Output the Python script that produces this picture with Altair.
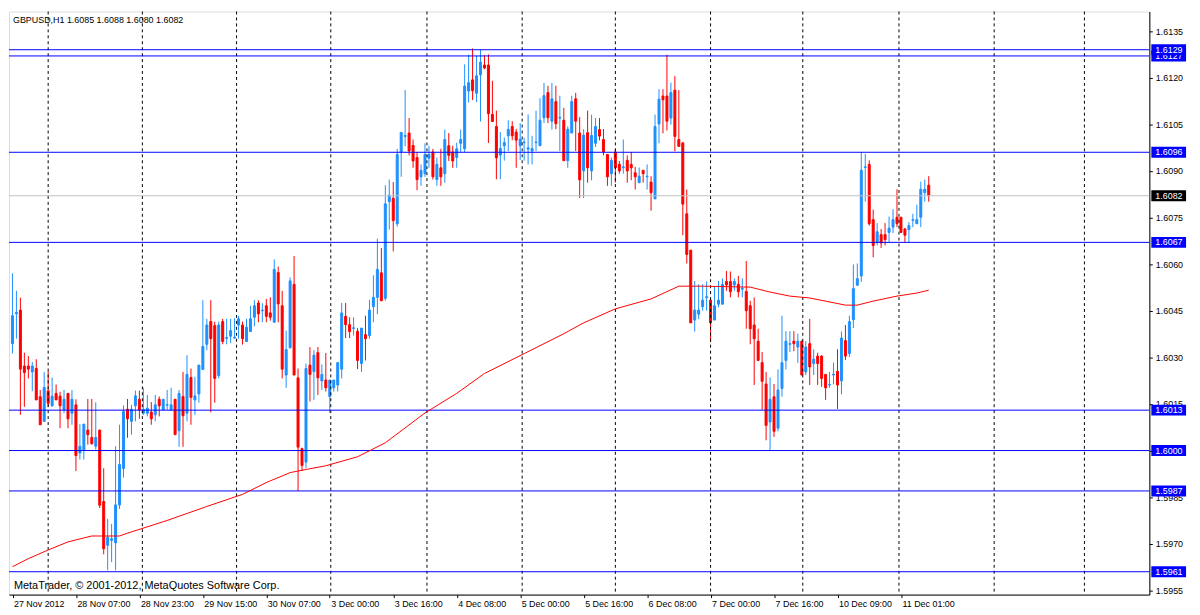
import altair as alt
import pandas as pd

# ---------------- data (GBPUSD H1, 27 Nov 15:00 .. 11 Dec 08:00) ----------------
opens = [
    1.60344, 1.60440, 1.60452, 1.60272, 1.60272, 1.60253, 1.60264, 1.60173, 1.60094, 1.60192,
    1.60144, 1.60184, 1.60175, 1.60131, 1.60184, 1.60120, 1.60147, 1.59992, 1.60001, 1.60066,
    1.60042, 1.60014, 1.60066, 1.59836, 1.59695, 1.59711, 1.59703, 1.59825, 1.59942, 1.60133,
    1.60094, 1.60144, 1.60165, 1.60120, 1.60120, 1.60124, 1.60115, 1.60165, 1.60131, 1.60146,
    1.60131, 1.60165, 1.60064, 1.60174, 1.60120, 1.60235, 1.60163, 1.60182, 1.60261, 1.60342,
    1.60415, 1.60402, 1.60241, 1.60415, 1.60361, 1.60368, 1.60362, 1.60404, 1.60404, 1.60351,
    1.60383, 1.60429, 1.60475, 1.60450, 1.60466, 1.60443, 1.60413, 1.60573, 1.60466, 1.60243,
    1.60331, 1.60535, 1.60234, 1.60006, 1.59963, 1.60275, 1.60254, 1.60315, 1.60224, 1.60227,
    1.60174, 1.60202, 1.60211, 1.60262, 1.60432, 1.60405, 1.60393, 1.60384, 1.60280, 1.60373,
    1.60370, 1.60463, 1.60493, 1.60572, 1.60490, 1.60801, 1.60812, 1.60730, 1.60961, 1.61011,
    1.61022, 1.60982, 1.60943, 1.60881, 1.60891, 1.60941, 1.60961, 1.60872, 1.60910, 1.60891,
    1.60981, 1.60961, 1.60943, 1.60989, 1.60971, 1.61157, 1.61193, 1.61150, 1.61209, 1.61241,
    1.61241, 1.61082, 1.61043, 1.60951, 1.60981, 1.61013, 1.61043, 1.61025, 1.60981, 1.60991,
    1.60970, 1.60964, 1.60991, 1.60981, 1.61071, 1.61152, 1.61060, 1.61123, 1.61070, 1.61063,
    1.60933, 1.61022, 1.61132, 1.61022, 1.60900, 1.61023, 1.60900, 1.60989, 1.61033, 1.61001,
    1.60953, 1.60891, 1.60961, 1.60921, 1.60910, 1.60934, 1.60921, 1.60894, 1.60862, 1.60902,
    1.60881, 1.60864, 1.60810, 1.61051, 1.61141, 1.61141, 1.61070, 1.61160, 1.61001, 1.60990,
    1.60762, 1.60645, 1.60420, 1.60439, 1.60463, 1.60492, 1.60484, 1.60420, 1.60471, 1.60471,
    1.60544, 1.60544, 1.60533, 1.60535, 1.60519, 1.60512, 1.60466, 1.60404, 1.60352, 1.60283,
    1.60214, 1.60092, 1.60173, 1.60072, 1.60200, 1.60290, 1.60342, 1.60352, 1.60333, 1.60352,
    1.60253, 1.60344, 1.60280, 1.60304, 1.60304, 1.60245, 1.60211, 1.60243, 1.60255, 1.60224,
    1.60354, 1.60312, 1.60421, 1.60532, 1.60562, 1.60911, 1.60921, 1.60743, 1.60670, 1.60695,
    1.60695, 1.60702, 1.60719, 1.60751, 1.60751, 1.60713, 1.60711, 1.60741, 1.60730, 1.60751,
    1.60830, 1.60854,
]
highs = [
    1.60570, 1.60514, 1.60492, 1.60315, 1.60304, 1.60285, 1.60294, 1.60195, 1.60253, 1.60255,
    1.60235, 1.60213, 1.60189, 1.60195, 1.60184, 1.60195, 1.60165, 1.60085, 1.60085, 1.60166,
    1.60166, 1.60155, 1.60067, 1.59943, 1.59780, 1.59764, 1.60014, 1.60083, 1.60145, 1.60166,
    1.60147, 1.60193, 1.60193, 1.60202, 1.60179, 1.60156, 1.60179, 1.60174, 1.60165, 1.60195,
    1.60202, 1.60165, 1.60195, 1.60253, 1.60307, 1.60264, 1.60237, 1.60275, 1.60484, 1.60424,
    1.60484, 1.60415, 1.60415, 1.60424, 1.60424, 1.60424, 1.60426, 1.60434, 1.60415, 1.60424,
    1.60466, 1.60484, 1.60484, 1.60474, 1.60488, 1.60493, 1.60615, 1.60592, 1.60514, 1.60386,
    1.60557, 1.60626, 1.60264, 1.60009, 1.60280, 1.60333, 1.60323, 1.60333, 1.60277, 1.60314,
    1.60227, 1.60227, 1.60285, 1.60475, 1.60475, 1.60429, 1.60429, 1.60394, 1.60394, 1.60434,
    1.60485, 1.60564, 1.60682, 1.60652, 1.60854, 1.60872, 1.60864, 1.60971, 1.61024, 1.61160,
    1.61070, 1.61001, 1.60961, 1.60921, 1.60989, 1.60981, 1.60971, 1.60943, 1.60971, 1.61033,
    1.61022, 1.60981, 1.60991, 1.61033, 1.61243, 1.61274, 1.61294, 1.61270, 1.61290, 1.61272,
    1.61275, 1.61190, 1.61094, 1.61025, 1.61007, 1.61063, 1.61060, 1.61035, 1.61054, 1.61007,
    1.61082, 1.61013, 1.61094, 1.61134, 1.61183, 1.61174, 1.61183, 1.61174, 1.61142, 1.61103,
    1.61043, 1.61142, 1.61151, 1.61073, 1.61034, 1.61094, 1.61081, 1.61070, 1.61070, 1.61035,
    1.60953, 1.60943, 1.60971, 1.60932, 1.61001, 1.60950, 1.60961, 1.60913, 1.60911, 1.60902,
    1.60921, 1.60883, 1.61081, 1.61163, 1.61163, 1.61274, 1.61184, 1.61205, 1.61160, 1.60993,
    1.60840, 1.60645, 1.60546, 1.60535, 1.60535, 1.60544, 1.60484, 1.60530, 1.60546, 1.60554,
    1.60578, 1.60576, 1.60554, 1.60562, 1.60554, 1.60610, 1.60482, 1.60493, 1.60392, 1.60317,
    1.60253, 1.60235, 1.60214, 1.60261, 1.60434, 1.60384, 1.60384, 1.60384, 1.60376, 1.60354,
    1.60352, 1.60424, 1.60326, 1.60315, 1.60307, 1.60245, 1.60253, 1.60283, 1.60326, 1.60383,
    1.60404, 1.60434, 1.60599, 1.60602, 1.60961, 1.60955, 1.60934, 1.60775, 1.60732, 1.60713,
    1.60732, 1.60753, 1.60777, 1.60841, 1.60751, 1.60716, 1.60735, 1.60762, 1.60791, 1.60865,
    1.60872, 1.60883,
]
lows = [
    1.60312, 1.60360, 1.60115, 1.60141, 1.60232, 1.60191, 1.60163, 1.60083, 1.60094, 1.60141,
    1.60141, 1.60163, 1.60072, 1.60120, 1.60072, 1.60083, 1.59934, 1.59971, 1.59971, 1.60019,
    1.60019, 1.60003, 1.59815, 1.59666, 1.59615, 1.59641, 1.59615, 1.59812, 1.59913, 1.60041,
    1.60051, 1.60094, 1.60102, 1.60115, 1.60110, 1.60083, 1.60094, 1.60110, 1.60131, 1.60131,
    1.60131, 1.60051, 1.60012, 1.60012, 1.60094, 1.60083, 1.60115, 1.60154, 1.60261, 1.60323,
    1.60123, 1.60154, 1.60232, 1.60342, 1.60342, 1.60346, 1.60360, 1.60360, 1.60341, 1.60349,
    1.60383, 1.60400, 1.60413, 1.60413, 1.60413, 1.60418, 1.60413, 1.60413, 1.60232, 1.60202,
    1.60328, 1.60243, 1.59870, 1.59934, 1.59943, 1.60158, 1.60163, 1.60179, 1.60195, 1.60190,
    1.60121, 1.60190, 1.60190, 1.60232, 1.60362, 1.60362, 1.60370, 1.60262, 1.60253, 1.60290,
    1.60360, 1.60413, 1.60439, 1.60482, 1.60482, 1.60711, 1.60641, 1.60721, 1.60881, 1.60979,
    1.60950, 1.60910, 1.60838, 1.60852, 1.60881, 1.60910, 1.60872, 1.60852, 1.60852, 1.60862,
    1.60932, 1.60910, 1.60910, 1.60961, 1.60961, 1.61120, 1.61128, 1.61121, 1.61059, 1.61227,
    1.60990, 1.61059, 1.60873, 1.60873, 1.60933, 1.60964, 1.60999, 1.60910, 1.60935, 1.60933,
    1.60921, 1.60921, 1.60964, 1.60981, 1.61054, 1.61054, 1.61033, 1.61034, 1.60964, 1.60933,
    1.60910, 1.61022, 1.60964, 1.60813, 1.60813, 1.60862, 1.60870, 1.60977, 1.60998, 1.60950,
    1.60852, 1.60852, 1.60862, 1.60891, 1.60891, 1.60862, 1.60870, 1.60840, 1.60862, 1.60862,
    1.60840, 1.60772, 1.60810, 1.60989, 1.61021, 1.61030, 1.61049, 1.60963, 1.60979, 1.60693,
    1.60602, 1.60411, 1.60383, 1.60423, 1.60450, 1.60450, 1.60349, 1.60420, 1.60461, 1.60471,
    1.60514, 1.60493, 1.60514, 1.60493, 1.60493, 1.60392, 1.60342, 1.60211, 1.60290, 1.60131,
    1.60033, 1.60001, 1.60044, 1.60062, 1.60173, 1.60261, 1.60317, 1.60320, 1.60282, 1.60243,
    1.60243, 1.60211, 1.60243, 1.60211, 1.60205, 1.60163, 1.60202, 1.60213, 1.60134, 1.60181,
    1.60291, 1.60301, 1.60394, 1.60532, 1.60543, 1.60801, 1.60724, 1.60622, 1.60660, 1.60652,
    1.60660, 1.60670, 1.60700, 1.60719, 1.60702, 1.60670, 1.60668, 1.60719, 1.60730, 1.60719,
    1.60801, 1.60801,
]
closes = [
    1.60434, 1.60445, 1.60262, 1.60251, 1.60262, 1.60272, 1.60163, 1.60083, 1.60203, 1.60152,
    1.60175, 1.60163, 1.60144, 1.60165, 1.60102, 1.60165, 1.59984, 1.60014, 1.60085, 1.60051,
    1.60022, 1.60042, 1.59824, 1.59684, 1.59721, 1.59716, 1.59825, 1.59955, 1.60125, 1.60102,
    1.60133, 1.60176, 1.60131, 1.60133, 1.60136, 1.60102, 1.60147, 1.60144, 1.60165, 1.60148,
    1.60147, 1.60051, 1.60184, 1.60112, 1.60245, 1.60171, 1.60176, 1.60275, 1.60335, 1.60404,
    1.60360, 1.60232, 1.60404, 1.60351, 1.60364, 1.60386, 1.60365, 1.60424, 1.60360, 1.60397,
    1.60424, 1.60466, 1.60440, 1.60452, 1.60432, 1.60429, 1.60583, 1.60472, 1.60262, 1.60325,
    1.60546, 1.60243, 1.60011, 1.59952, 1.60264, 1.60245, 1.60307, 1.60234, 1.60245, 1.60202,
    1.60227, 1.60227, 1.60283, 1.60443, 1.60405, 1.60383, 1.60395, 1.60290, 1.60394, 1.60360,
    1.60452, 1.60493, 1.60583, 1.60482, 1.60794, 1.60822, 1.60740, 1.60953, 1.61024, 1.61014,
    1.60964, 1.60932, 1.60872, 1.60902, 1.60953, 1.60953, 1.60881, 1.60921, 1.60881, 1.61001,
    1.60950, 1.60932, 1.60971, 1.61001, 1.61173, 1.61184, 1.61158, 1.61206, 1.61250, 1.61231,
    1.61084, 1.61059, 1.60942, 1.60972, 1.60991, 1.61034, 1.61013, 1.60999, 1.61002, 1.60993,
    1.60974, 1.60972, 1.60993, 1.61063, 1.61142, 1.61071, 1.61132, 1.61052, 1.61072, 1.60933,
    1.61034, 1.61123, 1.61060, 1.60871, 1.61015, 1.60910, 1.61014, 1.61043, 1.61012, 1.60961,
    1.60881, 1.60934, 1.60910, 1.60900, 1.60913, 1.60900, 1.60910, 1.60881, 1.60883, 1.60891,
    1.60883, 1.60830, 1.61043, 1.61131, 1.61129, 1.61060, 1.61152, 1.61011, 1.60979, 1.60793,
    1.60631, 1.60411, 1.60452, 1.60452, 1.60484, 1.60495, 1.60411, 1.60466, 1.60484, 1.60535,
    1.60533, 1.60511, 1.60544, 1.60511, 1.60522, 1.60450, 1.60392, 1.60360, 1.60290, 1.60223,
    1.60081, 1.60165, 1.60062, 1.60195, 1.60283, 1.60352, 1.60344, 1.60344, 1.60352, 1.60243,
    1.60333, 1.60269, 1.60294, 1.60280, 1.60232, 1.60202, 1.60213, 1.60246, 1.60211, 1.60362,
    1.60304, 1.60415, 1.60521, 1.60553, 1.60902, 1.60913, 1.60730, 1.60660, 1.60704, 1.60668,
    1.60679, 1.60716, 1.60743, 1.60730, 1.60702, 1.60693, 1.60724, 1.60743, 1.60743, 1.60841,
    1.60841, 1.60820,
]

# moving average (red line), read at several bars
ma_bar = [0, 4, 9, 14, 20, 27, 29, 39, 49, 58, 64, 70, 74, 79, 87, 94, 104, 112, 119, 129,
          139, 144, 152, 161, 168, 174, 186, 191, 196, 201, 210, 213, 217, 223, 228, 231]
ma_price = [1.59626, 1.59652, 1.59680, 1.59706, 1.59725, 1.59725, 1.59734, 1.59775, 1.59820, 1.59859,
            1.59897, 1.59929, 1.59939, 1.59951, 1.59980, 1.60025, 1.60121, 1.60184, 1.60248, 1.60312,
            1.60376, 1.60411, 1.60456, 1.60488, 1.60529, 1.60529, 1.60526, 1.60510, 1.60497, 1.60491,
            1.60468, 1.60468, 1.60481, 1.60497, 1.60507, 1.60516]

level_prices = [1.6127, 1.6129, 1.6096, 1.6067, 1.6013, 1.6000, 1.5987, 1.5961]
level_labels = ["1.6127", "1.6129", "1.6096", "1.6067", "1.6013", "1.6000", "1.5987", "1.5961"]
last_price = 1.6082
last_label = "1.6082"

day_sep_bars = [9, 32.75, 56.5, 80.25, 104.5, 128.5, 152, 176, 199.25, 223.5, 247.5, 270.25]

time_tick_bars = [0, 16, 32, 48, 64, 80, 96, 112, 128, 144, 160, 176, 192, 208, 224]
time_tick_labels = ["27 Nov 2012", "28 Nov 07:00", "28 Nov 23:00", "29 Nov 15:00", "30 Nov 07:00",
                    "3 Dec 00:00", "3 Dec 16:00", "4 Dec 08:00", "5 Dec 00:00", "5 Dec 16:00",
                    "6 Dec 08:00", "7 Dec 00:00", "7 Dec 16:00", "10 Dec 09:00", "11 Dec 01:00"]

price_ticks = [1.5955, 1.5970, 1.5985, 1.6000, 1.6015, 1.6030, 1.6045, 1.6060,
               1.6075, 1.6090, 1.6105, 1.6120, 1.6135]

title_text = "GBPUSD,H1  1.6085 1.6088 1.6080 1.6082"
credit_text = "MetaTrader, \u00a9 2001-2012, MetaQuotes Software Corp."

# ---------------- chart ----------------
n = len(opens)
assert len(highs) == n and len(lows) == n and len(closes) == n, (len(opens), len(highs), len(lows), len(closes))

bars = pd.DataFrame({"bar": list(range(n)), "open": opens, "high": highs, "low": lows, "close": closes})

W, H = 1150, 588
PX_PER_BAR = 4.0
PX_PER_PRICE = 31333.0
X0 = -0.875
YMAX = 1.61413
FONT = "Liberation Sans"

xscale = alt.Scale(domain=[X0, X0 + W / PX_PER_BAR], nice=False, zero=False)
yscale = alt.Scale(domain=[YMAX - H / PX_PER_PRICE, YMAX], nice=False, zero=False)
cscale = alt.Scale(domain=["up", "down"], range=["#1E90FF", "#FF0000"])

label_expr = " : ".join(
    f"datum.value == {b} ? '{t}'" for b, t in zip(time_tick_bars, time_tick_labels)
) + " : ''"

xaxis = alt.Axis(values=time_tick_bars, labelExpr=label_expr, labelAlign="left", labelBaseline="top",
                 labelPadding=2, labelOffset=1, tickSize=3, tickColor="black", domainColor="black",
                 labelColor="black", labelFont=FONT, labelFontSize=9, grid=False, title=None,
                 labelOverlap=False, labelFlush=False, labelBound=False)
yaxis = alt.Axis(orient="right", values=price_ticks, format=".4f", tickSize=3, labelPadding=3,
                 tickColor="black", domainColor="black", labelColor="black", labelFont=FONT,
                 labelFontSize=9, grid=False, title=None, labelOverlap=False, labelFlush=False,
                 labelBound=False)


def X(field):
    return alt.X(field, scale=xscale, axis=xaxis)


def Y(field):
    return alt.Y(field, scale=yscale, axis=yaxis)


base = alt.Chart(bars).transform_calculate(
    dir="datum.close >= datum.open ? 'up' : 'down'",
    x0="datum.bar - 0.25",
    x1="datum.bar + 0.25",
)

wicks = base.mark_rule(strokeWidth=1).encode(
    x=X("bar:Q"),
    y=Y("low:Q"),
    y2="high:Q",
    color=alt.Color("dir:N", scale=cscale, legend=None),
)

bodies = base.mark_rect(strokeWidth=1).encode(
    x=X("x0:Q"),
    x2="x1:Q",
    y=Y("open:Q"),
    y2="close:Q",
    fill=alt.Fill("dir:N", scale=cscale, legend=None),
    stroke=alt.Stroke("dir:N", scale=cscale, legend=None),
)

seps = alt.Chart(pd.DataFrame({"b": day_sep_bars})).mark_rule(
    color="black", strokeWidth=1, strokeDash=[3, 3]
).encode(x=X("b:Q"))

levels = alt.Chart(pd.DataFrame({"p": level_prices})).mark_rule(
    color="#0000FF", strokeWidth=1
).encode(y=Y("p:Q"))

last_line = alt.Chart(pd.DataFrame({"p": [last_price]})).mark_rule(
    color="#C0C0C0", strokeWidth=1
).encode(y=Y("p:Q"))

ma = alt.Chart(pd.DataFrame({"b": ma_bar, "p": ma_price})).mark_line(
    color="#FF0000", strokeWidth=1
).encode(x=X("b:Q"), y=Y("p:Q"))

title = alt.Chart(pd.DataFrame({"t": [title_text]})).mark_text(
    align="left", baseline="middle", font=FONT, fontSize=9, color="black"
).encode(x=alt.value(4), y=alt.value(9), text="t:N")

credit = alt.Chart(pd.DataFrame({"t": [credit_text]})).mark_text(
    align="left", baseline="middle", font=FONT, fontSize=11, color="black"
).encode(x=alt.value(5), y=alt.value(H - 9), text="t:N")

tag_layers = []
tags = list(zip(level_prices, level_labels, ["#0000FF"] * len(level_prices))) + [(last_price, last_label, "#000000")]
for p, lab, bg in tags:
    d = pd.DataFrame({"p": [p], "lab": [lab]})
    box = alt.Chart(d).mark_rule(strokeWidth=11, strokeCap="butt", color=bg).encode(
        x=alt.value(W + 2), x2=alt.value(W + 37), y=Y("p:Q")
    )
    txt = alt.Chart(d).mark_text(
        align="left", baseline="middle", font=FONT, fontSize=9, color="white"
    ).encode(x=alt.value(W + 6), y=Y("p:Q"), text="lab:N")
    tag_layers += [box, txt]

chart = alt.layer(
    wicks, bodies, seps, levels, last_line, ma, title, credit, *tag_layers
).properties(width=W, height=H, padding=0).configure_view(
    stroke="black", strokeWidth=1
).configure(background="white")

chart.save("out.html", embed_options={"renderer": "svg", "actions": False})
